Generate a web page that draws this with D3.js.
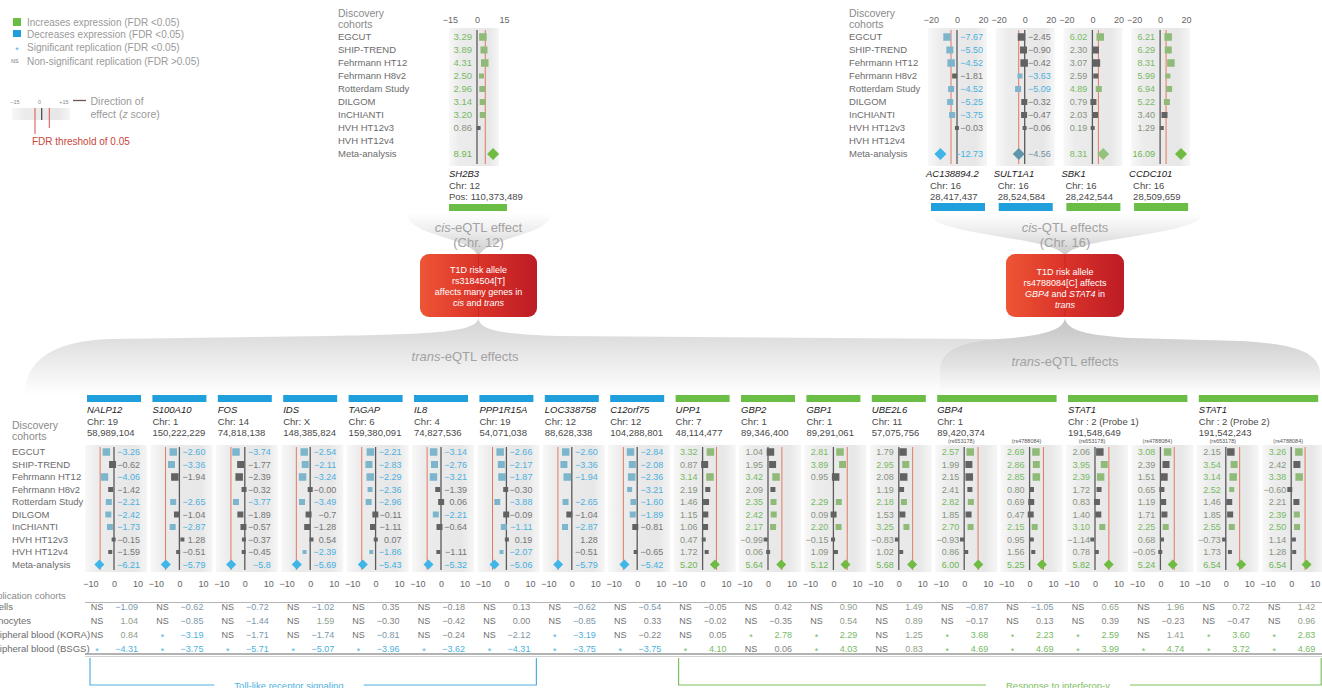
<!DOCTYPE html>
<html>
<head>
<meta charset="utf-8">
<script src="https://cdn.jsdelivr.net/npm/d3@7"></script>
<style>
  body { margin: 0; background: #fff; overflow: hidden; }
  svg { display: block; font-family: "Liberation Sans", Arial, Helvetica, sans-serif; }
</style>
</head>
<body>
<div class="container"></div>
<script>
// DATA
const cohorts = ["EGCUT", "SHIP-TREND", "Fehrmann HT12", "Fehrmann H8v2", "Rotterdam Study",
                 "DILGOM", "InCHIANTI", "HVH HT12v3", "HVH HT12v4", "Meta-analysis"];
// marker side per cohort (cohort weight)
const markSize = [7.5, 7, 7.5, 5, 6, 6, 6, 4, 4];

// cis genes: SH2B3 (chr 12) then the four chr 16 genes
const cisGenes = ["SH2B3", "AC138894.2", "SULT1A1", "SBK1", "CCDC101"];
const cisChr = ["Chr: 12", "Chr: 16", "Chr: 16", "Chr: 16", "Chr: 16"];
const cisPos = ["Pos: 110,373,489", "28,417,437", "28,524,584", "28,242,544", "28,509,659"];
const cisZ = [
  ["3.29", "3.89", "4.31", "2.50", "2.96", "3.14", "3.20", "0.86", null],
  ["-7.67", "-5.50", "-4.52", "-1.81", "-4.52", "-5.25", "-3.75", "-0.03", null],
  ["-2.45", "-0.90", "-0.42", "-3.63", "-5.09", "-0.32", "-0.47", "-0.06", null],
  ["6.02", "2.30", "3.07", "2.59", "4.89", "0.79", "2.03", "0.19", null],
  ["6.21", "6.29", "8.31", "5.99", "6.94", "5.22", "3.40", "1.29", null]
];
const cisSig = [
  [1, 1, 1, 1, 1, 1, 1, 0, 0],
  [1, 1, 1, 0, 1, 1, 1, 0, 0],
  [0, 0, 0, 1, 1, 0, 0, 0, 0],
  [1, 0, 0, 0, 1, 0, 0, 0, 0],
  [1, 1, 1, 1, 1, 1, 0, 0, 0]
];
const cisMeta = ["8.91", "-12.73", "-4.56", "8.31", "16.09"];
const cisMetaLevel = [2, 2, 1, 1, 2];

// trans genes
const transGenes = ["NALP12", "S100A10", "FOS", "IDS", "TAGAP", "IL8", "PPP1R15A", "LOC338758", "C12orf75",
                    "UPP1", "GBP2", "GBP1", "UBE2L6", "GBP4", "STAT1", "STAT1"];
const transChr = ["Chr: 19", "Chr: 1", "Chr: 14", "Chr: X", "Chr: 6", "Chr: 4", "Chr: 19", "Chr: 12", "Chr: 12",
                  "Chr: 7", "Chr: 1", "Chr: 1", "Chr: 11", "Chr: 1", "Chr : 2 (Probe 1)", "Chr : 2 (Probe 2)"];
const transPos = ["58,989,104", "150,222,229", "74,818,138", "148,385,824", "159,380,091", "74,827,536",
                  "54,071,038", "88,628,338", "104,288,801", "48,114,477", "89,346,400", "89,291,061",
                  "57,075,756", "89,420,374", "191,548,649", "191,542,243"];
const transSpan = [1, 1, 1, 1, 1, 1, 1, 1, 1, 1, 1, 1, 1, 2, 2, 2];
const snpLabels = ["(rs653178)", "(rs4788084)"];

// one entry per panel column (19)
const transZ = [
  ["-3.26", "-0.62", "-4.06", "-1.42", "-2.21", "-2.42", "-1.73", "-0.15", "-1.59"],
  ["-2.60", "-3.36", "-1.94", null, "-2.65", "-1.04", "-2.87", "1.28", "-0.51"],
  ["-3.74", "-1.77", "-2.39", "-0.32", "-3.77", "-1.89", "-0.57", "-0.37", "-0.45"],
  ["-2.54", "-2.11", "-3.24", "-0.00", "-3.49", "-0.7", "-1.28", "0.54", "-2.39"],
  ["-2.21", "-2.83", "-2.29", "-2.36", "-2.96", "-0.11", "-1.11", "0.07", "-1.86"],
  ["-3.14", "-2.76", "-3.21", "-1.39", "0.06", "-2.21", "-0.64", null, "-1.11"],
  ["-2.66", "-2.17", "-1.87", "-0.30", "-3.88", "-0.09", "-1.11", "0.19", "-2.07"],
  ["-2.60", "-3.36", "-1.94", null, "-2.65", "-1.04", "-2.87", "1.28", "-0.51"],
  ["-2.84", "-2.08", "-2.36", "-3.21", "-1.60", "-1.89", "-0.81", null, "-0.65"],
  ["3.32", "0.87", "3.14", "2.19", "1.46", "1.15", "1.06", "0.47", "1.72"],
  ["1.04", "1.95", "3.42", "2.09", "2.35", "2.42", "2.17", "-0.99", "0.06"],
  ["2.81", "3.89", "0.95", null, "2.29", "0.09", "2.20", "-0.15", "1.09"],
  ["1.79", "2.95", "2.08", "1.19", "2.18", "1.53", "3.25", "-0.83", "1.02"],
  ["2.57", "1.99", "2.15", "2.41", "2.82", "1.85", "2.70", "-0.93", "0.86"],
  ["2.69", "2.86", "2.85", "0.80", "0.69", "0.47", "2.15", "0.95", "1.56"],
  ["2.06", "3.95", "2.39", "1.72", "0.83", "1.40", "3.10", "-1.14", "0.78"],
  ["3.08", "2.39", "1.51", "0.65", "1.19", "1.71", "2.25", "0.68", "-0.05"],
  ["2.15", "3.54", "3.14", "2.52", "1.46", "1.85", "2.55", "-0.73", "1.73"],
  ["3.26", "2.42", "3.38", "-0.60", "2.21", "2.39", "2.50", "1.14", "1.28"]
];
const transSig = [
  [1, 0, 1, 0, 1, 1, 1, 0, 0],
  [1, 1, 0, 0, 1, 0, 1, 0, 0],
  [1, 0, 0, 0, 1, 0, 0, 0, 0],
  [1, 1, 1, 0, 1, 0, 0, 0, 1],
  [1, 1, 1, 1, 1, 0, 0, 0, 1],
  [1, 1, 1, 0, 0, 1, 0, 0, 0],
  [1, 1, 1, 0, 1, 0, 1, 0, 1],
  [1, 1, 1, 0, 1, 0, 1, 0, 0],
  [1, 1, 1, 1, 1, 1, 0, 0, 0],
  [1, 0, 1, 0, 0, 0, 0, 0, 0],
  [0, 0, 1, 0, 1, 1, 1, 0, 0],
  [1, 1, 0, 0, 1, 0, 1, 0, 0],
  [0, 1, 0, 0, 1, 0, 1, 0, 0],
  [1, 0, 0, 0, 1, 0, 1, 0, 0],
  [1, 1, 1, 0, 0, 0, 1, 0, 0],
  [0, 1, 1, 0, 0, 0, 1, 0, 0],
  [1, 0, 0, 0, 0, 0, 1, 0, 0],
  [0, 1, 1, 1, 0, 0, 1, 0, 0],
  [1, 0, 1, 0, 0, 1, 1, 0, 0]
];
const transMeta = ["-6.21", "-5.79", "-5.8", "-5.69", "-5.43", "-5.32", "-5.06", "-5.79", "-5.42",
                   "5.20", "5.64", "5.12", "5.68", "6.00", "5.25", "5.82", "5.24", "6.54", "6.54"];
// [column, cohort] with a printed value but no marker
const transNoMark = [[7, 7], [7, 8]];

// replication cohorts (one row of 19 columns each)
const repCohorts = ["B cells", "Monocytes", "Peripheral blood (KORA)", "Peripheral blood (BSGS)"];
const repZ = [
  ["-1.09", "-0.62", "-0.72", "-1.02", "0.35", "-0.18", "0.13", "-0.62", "-0.54", "-0.05", "0.42", "0.90", "1.49", "-0.87", "-1.05", "0.65", "1.96", "0.72", "1.42"],
  ["1.04", "-0.85", "-1.44", "1.59", "-0.30", "-0.42", "0.00", "-0.85", "0.33", "-0.02", "-0.35", "0.54", "0.89", "-0.17", "0.13", "0.39", "-0.23", "-0.47", "0.96"],
  ["0.84", "-3.19", "-1.71", "-1.74", "-0.81", "-0.24", "-2.12", "-3.19", "-0.22", "0.05", "2.78", "2.29", "1.25", "3.68", "2.23", "2.59", "1.41", "3.60", "2.83"],
  ["-4.31", "-3.75", "-5.71", "-5.07", "-3.96", "-3.62", "-4.31", "-3.75", "-3.75", "4.10", "0.06", "4.03", "0.83", "4.69", "4.69", "3.99", "4.74", "3.72", "4.69"]
];
const repSig = [
  [0, 0, 0, 0, 0, 0, 0, 0, 0, 0, 0, 0, 0, 0, 0, 0, 0, 0, 0],
  [0, 0, 0, 0, 0, 0, 0, 0, 0, 0, 0, 0, 0, 0, 0, 0, 0, 0, 0],
  [0, 1, 0, 0, 0, 0, 0, 1, 0, 0, 1, 1, 0, 1, 1, 1, 0, 1, 1],
  [1, 1, 1, 1, 1, 1, 1, 1, 1, 1, 0, 1, 0, 1, 1, 1, 1, 1, 1]
];
// pathway brackets: first and last column
const pathways = ["Toll-like receptor signaling", "Response to interferon-\u03b3"];
const pathwayCols = [[0, 6], [9, 18]];

// SETUP
const colors = {
  blue: "#1f9fdc", green: "#6abd45",
  blueText: "#4eb0de", greenText: "#78b964",
  blueMark: "#7db6cc", greenMark: "#8fba78",
  blueMuted: "#6196aa", greenMuted: "#93c27c",
  greyMark: "#626262", greyText: "#767676", greyGreenText: "#87937f",
  label: "#6c6c6c", light: "#9a9a9a", zero: "#5a5a5a", thr: "#e6775f"
};
const minus = s => s.replace("-", "\u2212");

const container = d3.select(".container");
const svg = container.append("svg").attr("width", 1322).attr("height", 688);
const defs = svg.append("defs");

function linGrad(id, horizontal, stops) {
  const g = defs.append("linearGradient").attr("id", id)
    .attr("x1", 0).attr("y1", 0).attr("x2", horizontal ? 1 : 0).attr("y2", horizontal ? 0 : 1);
  stops.forEach(s => g.append("stop").attr("offset", s[0]).attr("stop-color", s[1]));
}
linGrad("panelBg", true, [[0, "#f8f8f8"], [0.2, "#ececec"], [0.8, "#e7e7e7"], [1, "#f6f6f6"]]);
linGrad("funnelTop", false, [[0, "#ffffff"], [0.45, "#ececec"], [1, "#c9c9c9"]]);
linGrad("funnelBig", false, [[0, "#d2d2d2"], [0.55, "#ebebeb"], [1, "#ffffff"]]);
linGrad("funnelRight", false, [[0, "#c2c2c2"], [0.6, "#e2e2e2"], [1, "#ffffff"]]);
linGrad("redBox", true, [[0, "#ee5535"], [0.5, "#da3329"], [1, "#bd1c26"]]);

// LEGEND
const legend = svg.append("g").attr("font-size", 10).attr("fill", colors.light);
legend.append("rect").attr("x", 13).attr("y", 18).attr("width", 8).attr("height", 8).attr("fill", colors.green);
legend.append("rect").attr("x", 13).attr("y", 30).attr("width", 8).attr("height", 7).attr("fill", colors.blue);
legend.append("text").attr("x", 17).attr("y", 47.5).attr("dy", "0.58em").attr("text-anchor", "middle")
  .attr("font-size", 9).attr("fill", colors.blueText).text("*");
legend.append("text").attr("x", 11).attr("y", 62.5).attr("font-size", 5.5).attr("fill", "#777").text("NS");
["Increases expression (FDR <0.05)", "Decreases expression (FDR <0.05)",
 "Significant replication (FDR <0.05)", "Non-significant replication (FDR >0.05)"]
  .forEach((t, i) => legend.append("text").attr("x", 27).attr("y", [26, 37.5, 50.5, 64.5][i]).text(t));

// mini panel explaining the lines
const mini = svg.append("g");
const xMini = d3.scaleLinear().domain([-15, 15]).range([15, 64]);
mini.append("rect").attr("x", 12).attr("y", 108).attr("width", 58).attr("height", 12).attr("fill", "url(#panelBg)");
mini.selectAll("text.tick").data([-15, 0, 15]).join("text")
  .attr("x", d => xMini(d)).attr("y", 104).attr("text-anchor", "middle")
  .attr("font-size", 5.5).attr("fill", "#888")
  .text(d => d < 0 ? minus(String(d)) : d > 0 ? "+" + d : "0");
mini.append("line").attr("x1", 41.7).attr("x2", 41.7).attr("y1", 108).attr("y2", 120).attr("stroke", "#444").attr("stroke-width", 1.2);
mini.selectAll("line.thr").data([[35, 134], [49.3, 128]]).join("line")
  .attr("x1", d => d[0]).attr("x2", d => d[0]).attr("y1", 108).attr("y2", d => d[1])
  .attr("stroke", "#d9534f").attr("stroke-width", 1);
mini.append("line").attr("x1", 73).attr("x2", 86).attr("y1", 100.5).attr("y2", 100.5).attr("stroke", "#6d5656").attr("stroke-width", 1.3);
mini.append("text").attr("x", 90.5).attr("y", 105).attr("font-size", 10.5).attr("fill", colors.light).text("Direction of");
const eff = mini.append("text").attr("x", 90.5).attr("y", 117.5).attr("font-size", 10.5).attr("fill", colors.light);
eff.append("tspan").text("effect (");
eff.append("tspan").attr("font-style", "italic").text("z");
eff.append("tspan").text(" score)");
mini.append("text").attr("x", 32).attr("y", 145).attr("font-size", 10).attr("fill", "#c8463b").text("FDR threshold of 0.05");

// FOREST PANEL
function drawForest(g, p) {
  const dir = +p.meta < 0 ? -1 : 1;
  const markCol = dir < 0 ? colors.blueMark : colors.greenMark;
  const sigText = dir < 0 ? colors.blueText : colors.greenText;
  const nsText = dir < 0 ? colors.greyText : colors.greyGreenText;
  const x0 = p.x(0);
  g.append("rect").attr("x", p.bg[0]).attr("y", p.bg[2])
    .attr("width", p.bg[1] - p.bg[0]).attr("height", p.bg[3] - p.bg[2]).attr("fill", "url(#panelBg)");
  g.append("line").attr("x1", x0).attr("x2", x0).attr("y1", p.bg[2] + 2).attr("y2", p.bg[3] - 2)
    .attr("stroke", colors.zero).attr("stroke-width", 1.3);
  const xt = p.x(dir * p.thr);
  g.append("line").attr("x1", xt).attr("x2", xt).attr("y1", p.bg[2] + 2).attr("y2", p.bg[3] - 2)
    .attr("stroke", colors.thr).attr("stroke-width", 1);

  const rows = p.z.map((v, i) => ({ v, i, sig: p.sig[i] })).filter(d => d.v !== null);
  g.selectAll("rect.mark").data(rows.filter(d => !p.noMark.includes(d.i))).join("rect")
    .attr("class", "mark")
    .attr("x", d => p.x(+d.v) - markSize[d.i] / 2)
    .attr("y", d => p.y(d.i) - markSize[d.i] / 2)
    .attr("width", d => markSize[d.i]).attr("height", d => markSize[d.i])
    .attr("fill", d => d.sig ? markCol : colors.greyMark);

  const tx = dir < 0 ? x0 + 26 : x0 - 5;
  g.selectAll("text.val").data(rows).join("text")
    .attr("class", "val")
    .attr("x", tx).attr("y", d => p.y(d.i)).attr("dy", "0.35em")
    .attr("text-anchor", "end").attr("font-size", p.font)
    .attr("fill", d => d.sig ? sigText : nsText)
    .text(d => minus(d.v));

  const cx = p.x(+p.meta), cy = p.y(9), r = p.diamond;
  const bright = dir < 0 ? "#3fb5e8" : "#6fbb43";
  const muted = dir < 0 ? colors.blueMuted : colors.greenMuted;
  g.append("path").attr("d", `M${cx - r},${cy}L${cx},${cy - r}L${cx + r},${cy}L${cx},${cy + r}Z`)
    .attr("fill", p.metaLevel === 2 ? bright : muted);
  g.append("text").attr("x", tx).attr("y", cy).attr("dy", "0.35em").attr("text-anchor", "end")
    .attr("font-size", p.font)
    .attr("fill", p.metaLevel === 2 ? (dir < 0 ? "#3fb0e2" : "#6cb552") : (dir < 0 ? "#6f93a3" : colors.greenText))
    .text(minus(p.meta));
}

function drawAxis(g, x, ticks, y) {
  g.append("g").attr("transform", `translate(0,${y})`)
    .call(d3.axisBottom(x).tickValues(ticks).tickSize(0).tickPadding(0).tickFormat(d3.format("d")))
    .call(a => a.select(".domain").remove())
    .attr("font-family", null).attr("font-size", 9).attr("color", "#666");
}

function cohortLabels(x, yScale, headY, size) {
  const g = svg.append("g");
  g.append("text").attr("x", x).attr("y", headY).attr("font-size", size + 1).attr("fill", "#8a8a8a")
    .selectAll("tspan").data(["Discovery", "cohorts"]).join("tspan")
    .attr("x", x).attr("dy", (d, i) => i ? "1.12em" : 0).text(d => d);
  g.selectAll("text.coh").data(cohorts).join("text").attr("class", "coh")
    .attr("x", x).attr("y", (d, i) => yScale(i)).attr("dy", "0.35em")
    .attr("font-size", size).attr("fill", colors.label).text(d => d);
}

function geneHeader(g, name, chr, pos, x, xText, yName, bar, fill) {
  g.append("text").attr("x", x).attr("y", yName).attr("font-size", 9.5).attr("font-style", "italic").attr("fill", "#222").text(name);
  g.append("text").attr("x", xText).attr("y", yName + 11.5).attr("font-size", 9.5).attr("fill", "#4a4a4a").text(chr);
  g.append("text").attr("x", xText).attr("y", yName + 23).attr("font-size", 9.5).attr("fill", "#4a4a4a").text(pos);
  g.append("rect").attr("x", bar[0]).attr("y", bar[2]).attr("width", bar[1] - bar[0]).attr("height", bar[3] - bar[2]).attr("fill", fill);
}

// CIS PANELS
const topRows = d3.scalePoint().domain(d3.range(10)).range([37, 154]);
cohortLabels(338, topRows, 16.5, 9.5);
cohortLabels(849, topRows, 16.5, 9.5);

const topG = svg.append("g");
const xSH2B3 = d3.scaleLinear().domain([-15, 15]).range([450, 504]);
drawForest(topG.append("g"), {
  x: xSH2B3, y: topRows, bg: [449, 499, 28, 166], z: cisZ[0], sig: cisSig[0],
  meta: cisMeta[0], metaLevel: cisMetaLevel[0], thr: 4.6, diamond: 6, font: 9.5, noMark: []
});
drawAxis(topG, xSH2B3, [-15, 0, 15], 17);
geneHeader(topG, cisGenes[0], cisChr[0], cisPos[0], 449, 449, 177, [449, 507, 204, 211], colors.green);

const chr16Band = d3.scaleBand().domain(d3.range(1, 5)).range([928, 928 + 4 * 67.7]);
d3.range(1, 5).forEach(k => {
  const x0 = chr16Band(k);
  const x = d3.scaleLinear().domain([-20, 20]).range([x0 + 3, x0 + 55]);
  const g = topG.append("g");
  drawForest(g, {
    x, y: topRows, bg: [x0, x0 + 59, 28, 166], z: cisZ[k], sig: cisSig[k],
    meta: cisMeta[k], metaLevel: cisMetaLevel[k], thr: 4.6, diamond: 6, font: 9, noMark: []
  });
  drawAxis(g, x, [-20, 0, 20], 17);
  geneHeader(g, cisGenes[k], cisChr[k], cisPos[k], x0 - 2, x0 + 2, 177, [x0 + 3, x0 + 57, 203, 211],
             +cisMeta[k] < 0 ? colors.blue : colors.green);
});

// FUNNELS AND RED BOXES
const boxes = [
  { x: 420, w: 117, lines: [[["T1D risk allele", 0]], [["rs3184504[T]", 0]], [["affects many genes in", 0]],
                            [["cis", 1], [" and ", 0], ["trans", 1]]] },
  { x: 1006, w: 118, lines: [[["T1D risk allele", 0]], [["rs4788084[C] affects", 0]],
                             [["GBP4", 1], [" and ", 0], ["STAT4", 1], [" in", 0]], [["trans", 1]]] }
];
const deco = svg.insert("g", ":first-child");
// big trans funnel and the darker chr16 trans funnel
const nL = boxes[0].x + boxes[0].w / 2, nR = boxes[1].x + boxes[1].w / 2;
deco.append("path").attr("fill", "url(#funnelBig)")
  .attr("d", `M${nL},317 C${nL},332 ${nL - 40},334 ${nL - 150},336 L110,339 C50,341 25,362 25,395
              L1320,395 C1320,366 1300,345 1240,341 L${nL + 80},336 C${nL + 20},334 ${nL},330 ${nL},317Z`);
deco.append("path").attr("fill", "url(#funnelRight)")
  .attr("d", `M${nR},317 C${nR},331 ${nR - 25},336 ${nR - 65},339 C${nR - 110},342 940,352 940,372
              L940,395 L1320,395 L1320,372 C1318,352 1295,344 1240,341 L${nR + 65},338 C${nR + 20},335 ${nR},330 ${nR},317Z`);
// cis funnels above the boxes
[[407, 551, nL], [930, 1203, nR]].forEach(f => {
  deco.append("path").attr("fill", "url(#funnelTop)")
    .attr("d", `M${f[0]},213 C${f[0]},236 ${f[2] - 10},236 ${f[2]},256 C${f[2] + 10},236 ${f[1]},236 ${f[1]},213Z`);
});

const funText = svg.append("g").attr("font-size", 13).attr("fill", "#a2a2a2").attr("text-anchor", "middle");
[[nL, 232, "cis", "-eQTL effect", "(Chr. 12)"], [nR, 232, "cis", "-QTL effects", "(Chr. 16)"]].forEach(t => {
  const a = funText.append("text").attr("x", t[0]).attr("y", t[1]);
  a.append("tspan").attr("font-style", "italic").text(t[2]);
  a.append("tspan").text(t[3]);
  funText.append("text").attr("x", t[0]).attr("y", t[1] + 15).text(t[4]);
});
[[465, 361], [1065, 366]].forEach(t => {
  const a = funText.append("text").attr("x", t[0]).attr("y", t[1]);
  a.append("tspan").attr("font-style", "italic").text("trans");
  a.append("tspan").text("-eQTL effects");
});

boxes.forEach((b, bi) => {
  const g = svg.append("g");
  g.append("rect").attr("x", b.x).attr("y", 254).attr("width", b.w).attr("height", 63).attr("rx", 9)
    .attr("fill", "url(#redBox)");
  g.append("line").attr("x1", b.x + b.w / 2).attr("x2", b.x + b.w / 2).attr("y1", 255).attr("y2", 316)
    .attr("stroke", "#a8141c").attr("stroke-opacity", 0.35);
  b.lines.forEach((ln, i) => {
    const t = g.append("text").attr("x", b.x + b.w / 2).attr("y", (bi ? 274.5 : 272.5) + i * 11.2)
      .attr("text-anchor", "middle").attr("font-size", 9).attr("fill", "#fff");
    ln.forEach(seg => t.append("tspan").attr("font-style", seg[1] ? "italic" : null).text(seg[0]));
  });
});

// TRANS PANELS
const botRows = d3.scalePoint().domain(d3.range(10)).range([452, 564.5]);
cohortLabels(12, botRows, 428.5, 9.5);
const colBand = d3.scaleBand().domain(d3.range(19)).range([87, 87 + 19 * 65.4]);
const geneStart = transSpan.map((s, i) => d3.sum(transSpan.slice(0, i)));

const botG = svg.append("g");
transGenes.forEach((name, gi) => {
  const c0 = geneStart[gi], c1 = c0 + transSpan[gi] - 1;
  const x0 = colBand(c0);
  geneHeader(botG, name, transChr[gi], transPos[gi], x0, x0, 413, [x0, colBand(c1) + 54, 395, 402],
             +transMeta[c0] < 0 ? colors.blue : colors.green);
  if (transSpan[gi] > 1) {
    d3.range(c0, c1 + 1).forEach((c, k) => botG.append("text").attr("x", colBand(c) + 24).attr("y", 442.5)
      .attr("text-anchor", "middle").attr("font-size", 5.5).attr("fill", "#555").text(snpLabels[k]));
  }
});
d3.range(19).forEach(c => {
  const x0 = colBand(c);
  const x = d3.scaleLinear().domain([-10, 10]).range([x0 + 3.5, x0 + 50.5]);
  const g = botG.append("g");
  drawForest(g, {
    x, y: botRows, bg: [x0 - 2, x0 + 60, 445, 572], z: transZ[c], sig: transSig[c],
    meta: transMeta[c], metaLevel: 2, thr: 5.9, diamond: 5, font: 9,
    noMark: transNoMark.filter(d => d[0] === c).map(d => d[1])
  });
  drawAxis(g, x, [-10, 0, 10], 581);
});

// REPLICATION TABLE
const repRows = d3.scalePoint().domain(d3.range(4)).range([607, 649]);
const rep = svg.append("g");
rep.append("text").attr("x", -15).attr("y", 598.5).attr("font-size", 9.5).attr("fill", "#8a8a8a").text("Replication cohorts");
rep.selectAll("text.rl").data(repCohorts).join("text").attr("class", "rl")
  .attr("x", -15).attr("y", (d, i) => repRows(i)).attr("dy", "0.35em")
  .attr("font-size", 9.5).attr("fill", colors.label).text(d => d);
rep.append("line").attr("x1", 85).attr("x2", 1322).attr("y1", 602.5).attr("y2", 602.5).attr("stroke", "#b5b5b5");
rep.append("line").attr("x1", 85).attr("x2", 1322).attr("y1", 654).attr("y2", 654).attr("stroke", "#9a9a9a").attr("stroke-width", 1.4);
rep.append("line").attr("x1", 85).attr("x2", 1322).attr("y1", 656.5).attr("y2", 656.5).attr("stroke", "#d2d2d2");
const nsValueColor = v => Math.abs(+v) < 0.5 ? "#858585" : (+v < 0 ? "#7b97aa" : "#8fa08a");
repZ.forEach((row, r) => {
  const cells = row.map((v, c) => ({ v, c, sig: repSig[r][c], dir: +transMeta[c] < 0 ? -1 : 1 }));
  rep.selectAll(`text.ns${r}`).data(cells).join("text").attr("class", `ns${r}`)
    .attr("x", d => colBand(d.c) + 10).attr("y", repRows(r)).attr("dy", d => d.sig ? "0.58em" : "0.35em")
    .attr("text-anchor", "middle").attr("font-size", 9)
    .attr("fill", d => d.sig ? (d.dir < 0 ? colors.blueText : colors.greenText) : "#6e6e6e")
    .text(d => d.sig ? "*" : "NS");
  rep.selectAll(`text.v${r}`).data(cells).join("text").attr("class", `v${r}`)
    .attr("x", d => colBand(d.c) + 51).attr("y", repRows(r)).attr("dy", "0.35em")
    .attr("text-anchor", "end").attr("font-size", 9)
    .attr("fill", d => d.sig ? (d.dir < 0 ? colors.blueText : colors.greenText) : nsValueColor(d.v))
    .text(d => minus(d.v));
});

// PATHWAY BRACKETS
const brColors = [colors.blueText, "#7cc160"];
const brLabelX = [289, 1058];
pathways.forEach((name, i) => {
  const l = colBand(pathwayCols[i][0]) + 3, r = colBand(pathwayCols[i][1]) + 57;
  const g = svg.append("g").attr("stroke", brColors[i]).attr("fill", "none").attr("stroke-width", 1.2);
  const t = svg.append("text").attr("x", brLabelX[i]).attr("y", 689).attr("text-anchor", "middle")
    .attr("font-size", 9.5).attr("fill", brColors[i]).text(name);
  const half = t.node().getComputedTextLength() / 2 + 20;
  g.append("path").attr("d", `M${l},658V685H${brLabelX[i] - half}M${brLabelX[i] + half},685H${r}V658`);
});
</script>
</body>
</html>
